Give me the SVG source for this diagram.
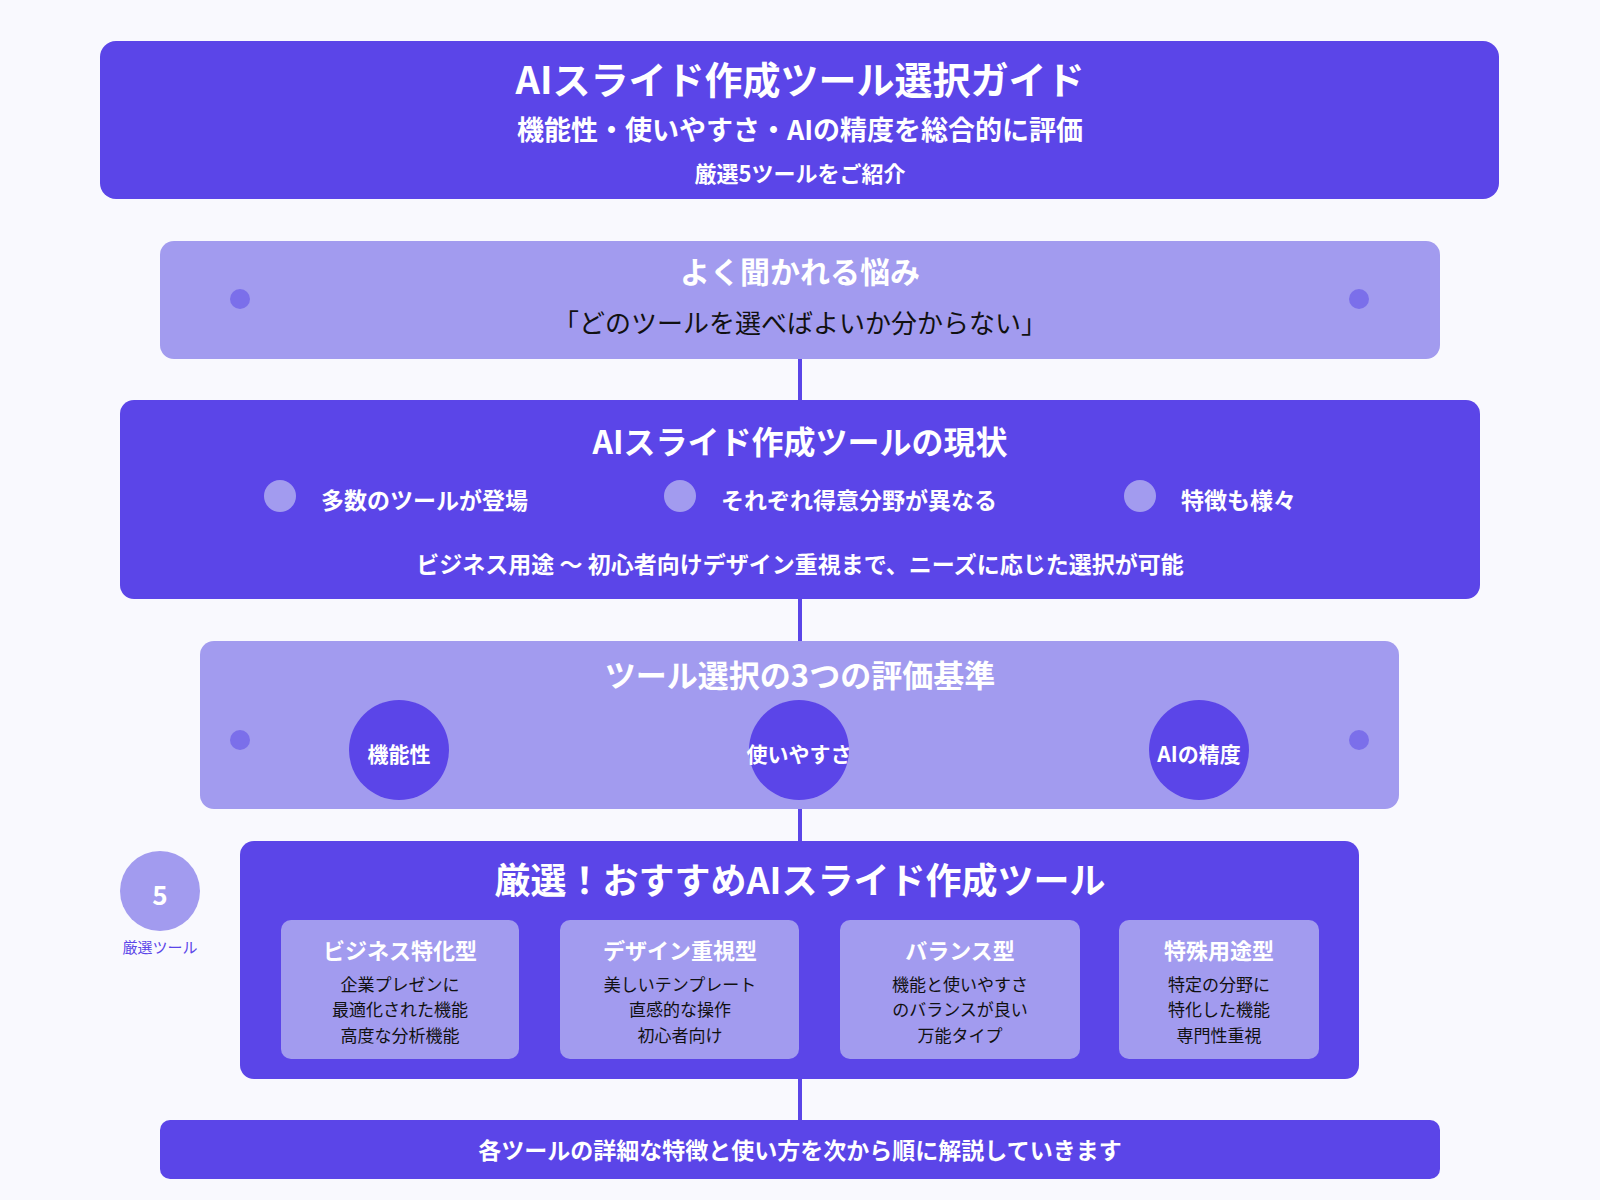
<svg xmlns="http://www.w3.org/2000/svg" width="1600" height="1200" viewBox="0 0 1600 1200">
<style>
text{font-family:"Noto Sans CJK JP","Noto Sans",sans-serif;text-anchor:middle;dominant-baseline:central}
.dark{fill:#5b45e8}.light{fill:#a29bef}.dot{fill:#7b6fea}
.w{fill:#fff;font-weight:bold}
.k{fill:#111;font-size:17px}
.ln{stroke:#5b45e8;stroke-width:4}
</style>
<rect width="1600" height="1200" fill="#f9f9fe"/>
<g id="connectors">
<line class="ln" x1="800" y1="359" x2="800" y2="400"/>
<line class="ln" x1="800" y1="599" x2="800" y2="641"/>
<line class="ln" x1="800" y1="809" x2="800" y2="841"/>
<line class="ln" x1="800" y1="1079" x2="800" y2="1120"/>
</g>
<g id="header">
<rect class="dark" x="100" y="41" width="1399" height="158" rx="16"/>
<text class="w" x="800" y="77" font-size="38">AIスライド作成ツール選択ガイド</text>
<text class="w" x="800" y="128" font-size="27">機能性・使いやすさ・AIの精度を総合的に評価</text>
<text class="w" x="800" y="172" font-size="22">厳選5ツールをご紹介</text>
</g>
<g id="problem">
<rect class="light" x="160" y="241" width="1280" height="118" rx="14"/>
<circle class="dot" cx="240" cy="299" r="10"/><circle class="dot" cx="1359" cy="299" r="10"/>
<text class="w" x="800" y="270" font-size="30">よく聞かれる悩み</text>
<text x="800" y="321" font-size="26" fill="#111">「どのツールを選べばよいか分からない」</text>
</g>
<g id="status">
<rect class="dark" x="120" y="400" width="1360" height="199" rx="14"/>
<text class="w" x="800" y="440" font-size="32">AIスライド作成ツールの現状</text>
<circle class="light" cx="280" cy="496" r="16"/><circle class="light" cx="680" cy="496" r="16"/><circle class="light" cx="1140" cy="496" r="16"/>
<text class="w" x="321" y="499" font-size="23" style="text-anchor:start">多数のツールが登場</text>
<text class="w" x="721" y="499" font-size="23" style="text-anchor:start">それぞれ得意分野が異なる</text>
<text class="w" x="1181" y="499" font-size="23" style="text-anchor:start">特徴も様々</text>
<text class="w" x="800" y="563" font-size="23">ビジネス用途 〜 初心者向けデザイン重視まで、ニーズに応じた選択が可能</text>
</g>
<g id="criteria">
<rect class="light" x="200" y="641" width="1199" height="168" rx="14"/>
<circle class="dot" cx="240" cy="740" r="10"/><circle class="dot" cx="1359" cy="740" r="10"/>
<text class="w" x="800" y="673" font-size="31">ツール選択の3つの評価基準</text>
<circle class="dark" cx="399" cy="750" r="50"/><circle class="dark" cx="799" cy="750" r="50"/><circle class="dark" cx="1199" cy="750" r="50"/>
<text class="w" x="399" y="753" font-size="21">機能性</text>
<text class="w" x="799" y="753" font-size="21">使いやすさ</text>
<text class="w" x="1199" y="753" font-size="21">AIの精度</text>
</g>
<g id="badge">
<circle class="light" cx="160" cy="891" r="40"/>
<text class="w" x="160" y="893" font-size="26">5</text>
<text x="160" y="946" font-size="15" fill="#5b45e8">厳選ツール</text>
</g>
<g id="tools">
<rect class="dark" x="240" y="841" width="1119" height="238" rx="14"/>
<text class="w" x="800" y="878" font-size="36">厳選！おすすめAIスライド作成ツール</text>
<rect class="light" x="281" y="920" width="238" height="139" rx="10"/>
<rect class="light" x="560" y="920" width="239" height="139" rx="10"/>
<rect class="light" x="840" y="920" width="240" height="139" rx="10"/>
<rect class="light" x="1119" y="920" width="200" height="139" rx="10"/>
<text class="w" x="400" y="949" font-size="22">ビジネス特化型</text>
<text class="k" x="400" y="983">企業プレゼンに</text><text class="k" x="400" y="1008">最適化された機能</text><text class="k" x="400" y="1034">高度な分析機能</text>
<text class="w" x="680" y="949" font-size="22">デザイン重視型</text>
<text class="k" x="680" y="983">美しいテンプレート</text><text class="k" x="680" y="1008">直感的な操作</text><text class="k" x="680" y="1034">初心者向け</text>
<text class="w" x="960" y="949" font-size="22">バランス型</text>
<text class="k" x="960" y="983">機能と使いやすさ</text><text class="k" x="960" y="1008">のバランスが良い</text><text class="k" x="960" y="1034">万能タイプ</text>
<text class="w" x="1219" y="949" font-size="22">特殊用途型</text>
<text class="k" x="1219" y="983">特定の分野に</text><text class="k" x="1219" y="1008">特化した機能</text><text class="k" x="1219" y="1034">専門性重視</text>
</g>
<g id="footer">
<rect class="dark" x="160" y="1120" width="1280" height="59" rx="10"/>
<text class="w" x="800" y="1149" font-size="23">各ツールの詳細な特徴と使い方を次から順に解説していきます</text>
</g>
</svg>
